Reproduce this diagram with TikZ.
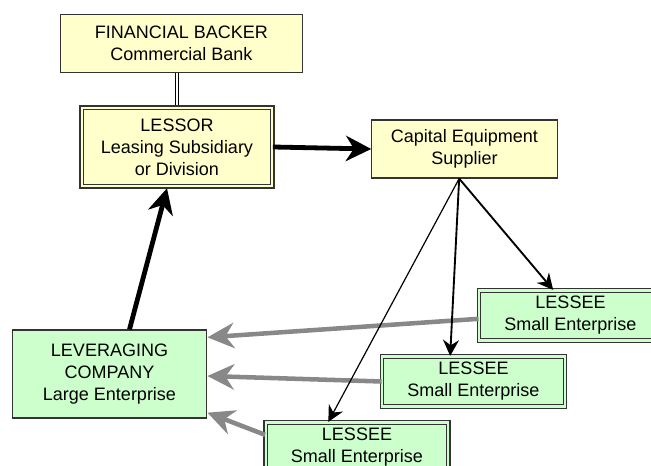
\documentclass[tikz,border=0pt]{standalone}
\usepackage{fontspec}
\setmainfont{Liberation Sans}
\usetikzlibrary{arrows.meta}
\definecolor{lfyellow}{RGB}{255,255,204}
\definecolor{lfgreen}{RGB}{204,255,204}
\definecolor{lfgray}{RGB}{136,136,136}
\definecolor{lfline}{RGB}{51,51,51}

\begin{document}
\begin{tikzpicture}[x=0.75pt, y=-0.75pt,
    font=\fontsize{13.5}{16.5}\selectfont,
    box/.style={draw=lfline, line width=0.9pt, align=center, inner sep=0pt},
    yellowbox/.style={box, fill=lfyellow},
    greenbox/.style={box, fill=lfgreen},
    twoline/.style={double distance=1.6pt, line width=0.9pt},
    bigarrow/.style={-{Stealth[length=19pt, width=19pt, inset=6pt]}, line width=3.6pt},
    thinarrow/.style={-{Stealth[length=12pt, width=12pt, inset=4pt]}, line width=1.4pt},
    grayarrow/.style={-{Stealth[length=20pt, width=19pt, inset=6.5pt]}, line width=3.4pt, lfgray}]
    \clip (0,0) rectangle (651,466);
    \useasboundingbox (0,0) rectangle (651,466);

    \node[yellowbox, minimum width=182pt, minimum height=44pt]
        (backer) at (181.5,43.5) {FINANCIAL BACKER \\ Commercial Bank};
    \node[yellowbox, twoline, double=lfyellow, minimum width=143pt, minimum height=59pt]
        (lessor) at (177,147) {LESSOR \\ Leasing Subsidiary \\ or Division};
    \node[yellowbox, minimum width=139pt, minimum height=43.5pt]
        (supplier) at (464.5,149) {Capital Equipment \\ Supplier};
    \node[greenbox, minimum width=146pt, minimum height=66pt]
        (leverage) at (109.5,374) {LEVERAGING \\ COMPANY \\ Large Enterprise};

    \node[greenbox, twoline, double=lfgreen, minimum width=137pt, minimum height=37.5pt]
        (lesseea) at (570.5,315.5) {LESSEE \\ Small Enterprise};
    \node[greenbox, twoline, double=lfgreen, minimum width=137pt, minimum height=37.5pt]
        (lesseeb) at (473.5,381.5) {LESSEE \\ Small Enterprise};
    \node[greenbox, twoline, double=lfgreen, minimum width=137pt, minimum height=37.5pt]
        (lesseec) at (357,447.5) {LESSEE \\ Small Enterprise};

    % backer and lessor
    \draw[twoline, draw=black, double=white] (lessor.north |- backer.south) -- ([yshift=1.5pt]lessor.north);

    \draw[bigarrow] (lessor.east) -- (supplier.west);
    \draw[bigarrow] ([xshift=15pt]leverage.north) -- ([xshift=-7.5pt, yshift=-1pt]lessor.south);

    % payments back to the leveraging company
    \draw[grayarrow] ([yshift=-2.5pt]lesseea.west) -- ([yshift=27.5pt]leverage.east);
    \draw[grayarrow] (lesseeb.west) -- ([yshift=-1.5pt]leverage.east);
    \draw[grayarrow] ([yshift=9.5pt]lesseec.west) -- ([yshift=-29pt]leverage.east);

    % equipment out to the lessees
    \draw[thinarrow] ([xshift=-4pt]supplier.south) -- ([xshift=-13pt]lesseea.north);
    \draw[thinarrow] ([xshift=-4pt]supplier.south) -- ([xshift=-17.5pt]lesseeb.north);
    \draw[thinarrow, line width=0.9pt] ([xshift=-4pt]supplier.south) -- ([xshift=-21.5pt]lesseec.north);
\end{tikzpicture}
\end{document}
